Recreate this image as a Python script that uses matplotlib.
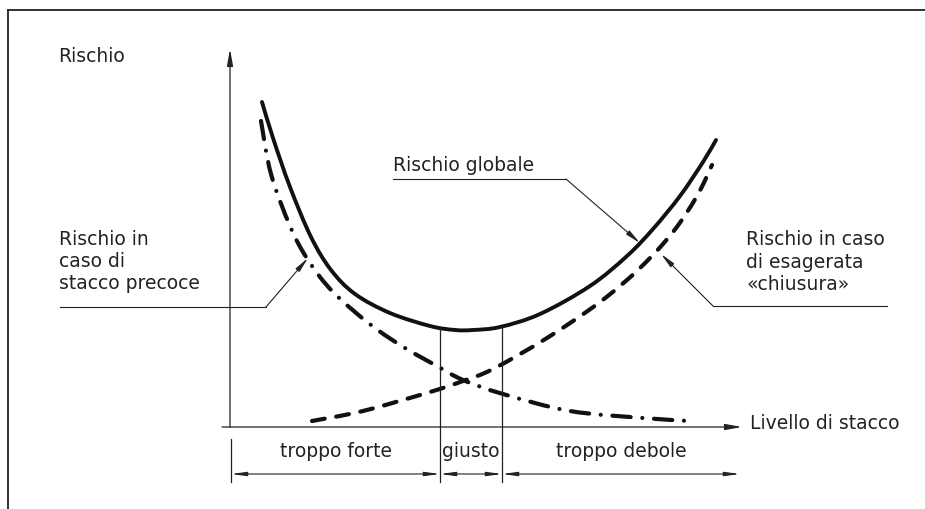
import numpy as np
import matplotlib
matplotlib.use("Agg")
import matplotlib.pyplot as plt
from matplotlib.path import Path
from matplotlib.patches import PathPatch

# picture is drawn in pixel-like units: x to the right, y downwards
rischio_globale = [(262, 103), (273, 139), (290, 188), (311, 238), (331, 271),
                   (355, 295), (390, 314), (430, 327), (455, 331), (473, 331),
                   (500, 328), (540, 315), (590, 287), (627, 257), (653, 230),
                   (680, 197), (703, 163), (716, 141)]
stacco_precoce = [(261, 122), (271, 175), (290, 227), (308, 261), (333, 293),
                  (371, 326), (405, 349), (437, 367), (463, 381), (503, 395),
                  (570, 412), (643, 419), (690, 422)]
chiusura = [(312, 422), (363, 412), (430, 393), (463, 382), (493, 370),
            (547, 339), (600, 303), (640, 269), (673, 233), (697, 197),
            (712, 166)]

zone_bordi = [231, 440, 502, 740]
zone_nomi = ["troppo forte", "giusto", "troppo debole"]

testo_precoce = ["Rischio in", "caso di", "stacco precoce"]
testo_chiusura = ["Rischio in caso", "di esagerata", "«chiusura»"]


def smooth_path(pts):
    # catmull-rom through the read points, drawn as cubic bezier
    p = np.array(pts, dtype=float)
    verts = [p[0]]
    codes = [Path.MOVETO]
    for i in range(len(p) - 1):
        p0 = p[i - 1] if i > 0 else p[i]
        p1, p2 = p[i], p[i + 1]
        p3 = p[i + 2] if i + 2 < len(p) else p[i + 1]
        verts += [p1 + (p2 - p0) / 6, p2 - (p3 - p1) / 6, p2]
        codes += [Path.CURVE4] * 3
    return Path(verts, codes)


fig = plt.figure(figsize=(9.25, 5.1), dpi=100)
ax = fig.add_axes([0, 0, 1, 1])
ax.set_xlim(0, 925)
ax.set_ylim(510, 0)
ax.axis("off")

# frame
ax.plot([8, 925], [11, 11], color="#222", lw=1.3)
ax.plot([8, 8], [11, 510], color="#222", lw=1.3)

fs = 13.5
txt = dict(fontsize=fs, color="#222", family="DejaVu Sans")

# axes
ax.annotate("", xy=(230, 50), xytext=(230, 428),
            arrowprops=dict(arrowstyle="-|>,head_length=1.0,head_width=0.18",
                            color="#222", lw=0.9, shrinkA=0, shrinkB=0))
ax.annotate("", xy=(742, 428), xytext=(222, 428),
            arrowprops=dict(arrowstyle="-|>,head_length=1.0,head_width=0.18",
                            color="#222", lw=0.9, shrinkA=0, shrinkB=0))
ax.text(58, 56, "Rischio", va="center", ha="left", **txt)
ax.text(750, 424, "Livello di stacco", va="center", ha="left", **txt)

# curves
ax.add_patch(PathPatch(smooth_path(rischio_globale), fill=False, color="#111",
                       lw=2.8, capstyle="round"))
ax.add_patch(PathPatch(smooth_path(chiusura), fill=False, color="#111",
                       lw=3.0, capstyle="round", linestyle=(0, (3.1, 2.8))))
ax.add_patch(PathPatch(smooth_path(stacco_precoce), fill=False, color="#111",
                       lw=3.0, capstyle="round",
                       linestyle=(0, (4.4, 2.8, 0.01, 2.8))))

# zone boundaries and dimension arrows
ax.plot([231, 231], [440, 483], color="#222", lw=0.9)
ax.plot([440, 440], [329, 483], color="#222", lw=0.9)
ax.plot([502, 502], [328, 483], color="#222", lw=0.9)
for i, nome in enumerate(zone_nomi):
    a, b = zone_bordi[i], zone_bordi[i + 1]
    ax.annotate("", xy=(b, 475), xytext=(a, 475),
                arrowprops=dict(arrowstyle="<|-|>,head_length=0.9,head_width=0.12",
                                color="#222", lw=0.8, shrinkA=0, shrinkB=0))
    ax.text((a + b) / 2, 452, nome, ha="center", va="center", **txt)

# leaders
lead = dict(arrowstyle="-|>,head_length=0.9,head_width=0.15",
            color="#222", lw=0.8, shrinkA=0, shrinkB=0)
ax.text(393, 166, "Rischio globale", va="center", ha="left", **txt)
ax.plot([393, 566], [180, 180], color="#222", lw=0.8)
ax.annotate("", xy=(640, 244), xytext=(566, 180), arrowprops=lead)

for k, riga in enumerate(testo_precoce):
    ax.text(59, 240 + 22 * k, riga, va="center", ha="left", **txt)
ax.plot([60, 266], [308, 308], color="#222", lw=0.8)
ax.annotate("", xy=(308, 259), xytext=(266, 308), arrowprops=lead)

for k, riga in enumerate(testo_chiusura):
    ax.text(746, 240 + 22.5 * k, riga, va="center", ha="left", **txt)
ax.plot([713, 887], [307, 307], color="#222", lw=0.8)
ax.annotate("", xy=(661, 255), xytext=(713, 307), arrowprops=lead)

fig.savefig("out.png", dpi=100, facecolor="white")
